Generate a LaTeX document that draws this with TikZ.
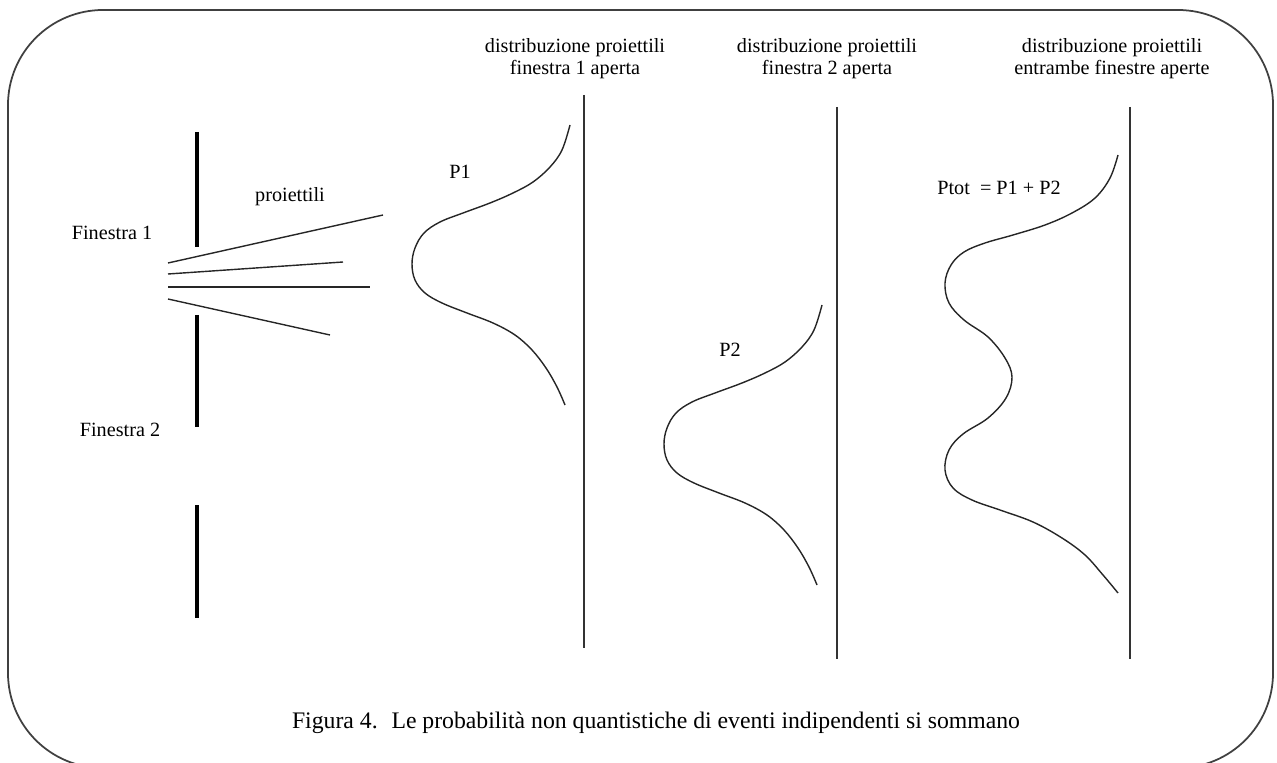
\documentclass[tikz,border=0pt]{standalone}
\usepackage{fontspec}
\setmainfont{Liberation Serif}
\usepackage{tikz}

\begin{document}
\begin{tikzpicture}[x=0.02cm, y=0.02cm]
	\tikzstyle{every node}+=[inner sep=0pt, font=\fontsize{11.5}{12.5}\selectfont]
	\tikzstyle{wall}=[black, line width=2pt]
	\tikzstyle{screen}=[black!80, line width=1.1pt]
	\tikzstyle{shot}=[black!85, line width=0.8pt]
	\tikzstyle{distr}=[black!85, line width=0.8pt]
	\useasboundingbox (0,0) rectangle (1277,-763);
	\draw [black!75, line width=1pt, rounded corners=1.9cm] (8,-10) rectangle (1273,-768);
	% muro con le due finestre
	\draw [wall] (197,-132) -- (197,-247);
	\draw [wall] (197,-315) -- (197,-427);
	\draw [wall] (197,-505) -- (197,-618);
	\node (fin1) at (112,-233) {Finestra 1};
	\node (fin2) at (120,-430) {Finestra 2};
	% proiettili
	\node (proj) at (290,-197) {proiettili};
	\draw [shot] (168,-263) -- (383,-215);
	\draw [shot] (168,-274) -- (343,-262);
	\draw [shot] (168,-287) -- (370,-287);
	\draw [shot] (168,-299) -- (330,-335);
	% schermi
	\draw [screen] (584,-95) -- (584,-648);
	\draw [screen] (837,-107) -- (837,-659);
	\draw [screen] (1130,-107) -- (1130,-659);
	\node [align=center] (head1) at (575,-59) {distribuzione proiettili\\finestra 1 aperta};
	\node [align=center] (head2) at (827,-59) {distribuzione proiettili\\finestra 2 aperta};
	\node [align=center] (head3) at (1112,-59) {distribuzione proiettili\\entrambe finestre aperte};
	% distribuzioni
	\draw [distr] plot [smooth, tension=0.6] coordinates {(570,-125) (562,-150) (550,-167) (533,-182) (513,-193) (490,-203) (463,-213) (440,-222) (424,-233) (415,-248) (412,-264) (415,-280) (425,-293) (442,-303) (467,-313) (493,-323) (515,-335) (532,-350) (546,-368) (557,-387) (565,-405)};
	\node (p1) at (460,-172) {P1};
	\draw [distr, shift={(252,-180)}] plot [smooth, tension=0.6] coordinates {(570,-125) (562,-150) (550,-167) (533,-182) (513,-193) (490,-203) (463,-213) (440,-222) (424,-233) (415,-248) (412,-264) (415,-280) (425,-293) (442,-303) (467,-313) (493,-323) (515,-335) (532,-350) (546,-368) (557,-387) (565,-405)};
	\node (p2) at (730,-350) {P2};
	\draw [distr] plot [smooth, tension=0.6] coordinates {(1118,-155) (1110,-178) (1095,-198) (1072,-213) (1045,-225) (1013,-235) (985,-243) (964,-252) (951,-265) (945,-283) (949,-303) (964,-320) (988,-337) (1005,-358) (1012,-377) (1006,-398) (988,-418) (963,-434) (949,-450) (945,-470) (953,-488) (972,-500) (1000,-510) (1033,-522) (1062,-538) (1085,-555) (1103,-575) (1118,-593)};
	\node (ptot) at (999,-188) {Ptot~ = P1 + P2};
	\node [font=\fontsize{13.5}{15}\selectfont] (caption) at (656,-723) {Figura 4.~ Le probabilità non quantistiche di eventi indipendenti si sommano};
\end{tikzpicture}
\end{document}
